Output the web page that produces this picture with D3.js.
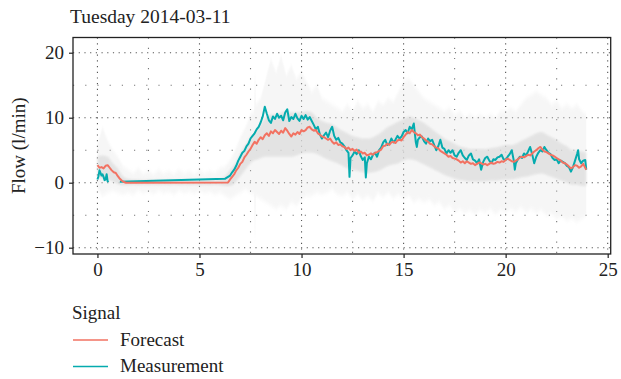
<!DOCTYPE html>
<html>
<head>
<meta charset="utf-8">
<script src="https://cdn.jsdelivr.net/npm/d3@7/dist/d3.min.js"></script>
<style>
  html, body { margin: 0; padding: 0; background: #fff; }
  svg { display: block; }
  text { font-family: "Liberation Serif", "DejaVu Serif", serif; fill: #222; }
</style>
</head>
<body>
<svg id="chart" width="621" height="379"></svg>
<script>
// Flow on Tuesday 2014-03-11, hours of the day vs l/min
const title = "Tuesday 2014-03-11";
const yTitle = "Flow (l/min)";
const legendTitle = "Signal";
const seriesNames = ["Forecast", "Measurement"];
const seriesColors = ["#F27262", "#05ABAE"];
const xTicks = [0, 5, 10, 15, 20, 25];
const yTicks = [-10, 0, 10, 20];
const xMinor = [2.5, 7.5, 12.5, 17.5, 22.5];
const yMinor = [-5, 5, 15];

// Measurement (null marks a gap in the record)
const measHours = [0, 0.05, 0.1, 0.15, 0.2, 0.25, 0.3, 0.35, 0.4, 0.45, 0.5, 0.55, 0.8,
  1.1, 6.25, 6.3, 6.4, 6.5, 6.6, 6.7, 6.8, 6.9, 7.0, 7.1, 7.2, 7.3, 7.4, 7.5, 7.6, 7.7, 7.8, 7.9,
  8.0, 8.1, 8.2, 8.3, 8.4, 8.5, 8.6, 8.7, 8.8, 8.9, 9.0, 9.1, 9.2, 9.3, 9.4, 9.5, 9.6, 9.7, 9.8, 9.9,
  10.0, 10.1, 10.2, 10.3, 10.4, 10.5, 10.6, 10.7, 10.8, 10.9, 11.0, 11.1, 11.2, 11.3, 11.4, 11.5, 11.6, 11.7, 11.8, 11.9,
  12.0, 12.1, 12.2, 12.3, 12.35, 12.4, 12.5, 12.6, 12.7, 12.8, 12.9, 13.0, 13.1, 13.15, 13.2, 13.3, 13.4, 13.5, 13.6, 13.7, 13.8, 13.9,
  14.0, 14.1, 14.2, 14.3, 14.4, 14.5, 14.6, 14.7, 14.8, 14.9, 15.0, 15.1, 15.2, 15.3, 15.4, 15.5, 15.6, 15.65, 15.7, 15.8, 15.9,
  16.0, 16.1, 16.2, 16.3, 16.4, 16.5, 16.6, 16.7, 16.8, 16.9, 17.0, 17.1, 17.2, 17.3, 17.4, 17.5, 17.6, 17.7, 17.8, 17.9,
  18.0, 18.1, 18.2, 18.3, 18.4, 18.5, 18.6, 18.7, 18.8, 18.9, 19.0, 19.1, 19.2, 19.3, 19.4, 19.5, 19.6, 19.7, 19.8, 19.9,
  20.0, 20.1, 20.2, 20.3, 20.4, 20.45, 20.5, 20.6, 20.7, 20.8, 20.9, 21.0, 21.1, 21.2, 21.3, 21.4, 21.5, 21.6, 21.7, 21.8, 21.9,
  22.0, 22.1, 22.2, 22.3, 22.4, 22.5, 22.6, 22.7, 22.8, 22.9, 23.0, 23.1, 23.2, 23.3, 23.4, 23.5, 23.55, 23.6, 23.7, 23.8, 23.9, 23.95];
const measFlow = [0.5, 1.0, 1.9, 1.5, 1.1, 1.3, 0.9, 0.4, 0.5, 1.3, 0.2, 0.3, null,
  0.15, 0.6, 0.7, 0.9, 1.1, 1.6, 2.0, 2.6, 3.4, 4.0, 4.6, 4.9, 5.6, 6.0, 6.8, 7.2, 7.6, 8.2, 8.6,
  9.3, 10.2, 11.7, 10.6, 9.6, 9.2, 10.2, 9.8, 10.6, 10.0, 10.3, 9.6, 10.8, 11.3, 9.5, 10.1, 9.8, 10.6, 9.9, 9.5,
  10.3, 9.8, 10.4, 9.7, 10.1, 9.5, 8.9, 8.2, 8.6, 7.4, 6.8, 7.3, 7.7, 7.0, 8.0, 8.6, 7.2, 6.6, 6.9, 6.2,
  6.0, 5.6, 5.0, 4.6, 0.9, 3.8, 4.2, 4.8, 4.4, 5.0, 4.1, 3.5, 3.9, 0.8, 3.0, 4.0, 3.6, 4.3, 4.6, 4.0, 5.0, 5.4,
  6.2, 6.6, 5.8, 6.0, 6.8, 6.2, 6.6, 7.2, 6.8, 7.1, 7.8, 8.1, 7.6, 8.6, 8.2, 9.1, 6.2, 5.5, 6.6, 7.0, 7.1,
  6.4, 6.0, 6.8, 6.4, 6.6, 5.8, 5.0, 5.6, 6.6, 5.4, 5.2, 4.5, 5.0, 4.6, 5.0, 4.2, 4.0, 4.6, 5.0, 4.2,
  3.8, 3.5, 4.2, 4.5, 3.6, 3.4, 3.0, 3.6, 2.0, 3.2, 3.8, 4.0, 3.4, 3.0, 3.6, 3.5, 3.9, 4.0, 4.3, 3.6,
  3.5, 4.0, 4.4, 5.0, 3.4, 2.0, 3.0, 3.6, 4.0, 3.8, 4.5, 4.2, 4.8, 5.5, 4.4, 3.0, 4.0, 4.6, 5.0, 4.8, 5.5,
  5.0, 4.6, 4.4, 3.8, 3.5, 3.6, 3.0, 3.4, 3.2, 3.0, 2.6, 2.4, 1.7, 2.4, 3.4, 4.4, 5.0, 3.6, 3.0, 3.4, 3.5, 2.0];

// Forecast
const fcHours = [0, 0.1, 0.2, 0.3, 0.4, 0.5, 0.6, 0.7, 0.8, 0.9, 1.0, 1.1, 1.2, 1.3, 1.4, 6.4,
  6.5, 6.6, 6.7, 6.8, 6.9, 7.0, 7.1, 7.2, 7.3, 7.4, 7.5, 7.6, 7.7, 7.8, 7.9,
  8.0, 8.1, 8.2, 8.3, 8.4, 8.5, 8.6, 8.7, 8.8, 8.9, 9.0, 9.1, 9.2, 9.3, 9.4, 9.5, 9.6, 9.7, 9.8, 9.9,
  10.0, 10.1, 10.2, 10.3, 10.4, 10.5, 10.6, 10.7, 10.8, 10.9, 11.0, 11.1, 11.2, 11.3, 11.4, 11.5, 11.6, 11.7, 11.8, 11.9,
  12.0, 12.1, 12.2, 12.3, 12.4, 12.5, 12.6, 12.7, 12.8, 12.9, 13.0, 13.1, 13.2, 13.3, 13.4, 13.5, 13.6, 13.7, 13.8, 13.9,
  14.0, 14.1, 14.2, 14.3, 14.4, 14.5, 14.6, 14.7, 14.8, 14.9, 15.0, 15.1, 15.2, 15.3, 15.4, 15.5, 15.6, 15.7, 15.8, 15.9,
  16.0, 16.1, 16.2, 16.3, 16.4, 16.5, 16.6, 16.7, 16.8, 16.9, 17.0, 17.1, 17.2, 17.3, 17.4, 17.5, 17.6, 17.7, 17.8, 17.9,
  18.0, 18.1, 18.2, 18.3, 18.4, 18.5, 18.6, 18.7, 18.8, 18.9, 19.0, 19.1, 19.2, 19.3, 19.4, 19.5, 19.6, 19.7, 19.8, 19.9,
  20.0, 20.1, 20.2, 20.3, 20.4, 20.5, 20.6, 20.7, 20.8, 20.9, 21.0, 21.1, 21.2, 21.3, 21.4, 21.5, 21.6, 21.7, 21.8, 21.9,
  22.0, 22.1, 22.2, 22.3, 22.4, 22.5, 22.6, 22.7, 22.8, 22.9, 23.0, 23.1, 23.2, 23.3, 23.4, 23.5, 23.6, 23.7, 23.8, 23.95];
const fcFlow = [2.7, 2.3, 2.4, 2.2, 2.6, 2.7, 2.3, 1.9, 1.6, 1.5, 1.0, 0.6, 0.3, 0.1, 0.0, 0.05,
  0.5, 0.9, 1.3, 1.9, 2.3, 2.9, 3.2, 3.9, 4.3, 4.8, 5.2, 5.8, 6.3, 6.0, 6.6,
  7.0, 6.7, 7.3, 7.6, 7.2, 7.9, 7.6, 8.1, 7.8, 7.5, 8.0, 7.7, 8.4, 8.0, 7.5, 7.1, 7.6, 7.4, 7.8, 7.5,
  8.1, 7.9, 8.1, 8.5, 8.6, 8.2, 8.0, 8.1, 7.6, 7.4, 7.1, 7.0, 6.8, 6.6, 6.8, 6.3, 6.0, 6.2, 5.8, 5.9,
  5.6, 5.5, 5.2, 5.4, 5.0, 5.2, 4.9, 5.1, 4.6, 4.8, 4.5, 4.6, 4.2, 4.3, 4.5, 4.3, 4.6, 4.7, 4.9, 5.1,
  5.6, 5.7, 6.0, 5.8, 6.2, 6.3, 6.1, 6.5, 6.6, 6.5, 7.0, 7.4, 7.8, 7.6, 8.1, 7.8, 7.6, 7.3, 7.4, 7.0,
  6.8, 6.5, 6.3, 6.0, 5.9, 5.6, 5.4, 5.3, 4.9, 4.7, 4.5, 4.3, 4.0, 4.1, 3.8, 3.7, 3.6, 3.4, 3.1, 3.3,
  3.0, 3.3, 3.1, 2.9, 3.0, 2.7, 2.9, 3.1, 3.0, 2.8, 2.9, 2.7, 2.9, 3.1, 2.9, 3.0, 3.2, 3.1, 3.3, 3.2,
  3.5, 3.7, 3.5, 3.3, 3.2, 3.4, 3.6, 3.9, 4.0, 3.9, 4.1, 4.3, 4.2, 4.5, 4.8, 5.0, 5.3, 5.5, 5.1, 4.8,
  4.7, 4.5, 4.3, 4.2, 4.0, 3.8, 3.6, 3.4, 3.1, 3.0, 2.8, 2.5, 2.2, 2.4, 2.7, 2.6, 2.3, 2.5, 2.9, 2.0];

// Forecast interval: inner (dense) and outer (extreme) bounds
const bandHours = [0, 0.25, 0.5, 0.75, 1.0, 1.25, 1.5, 1.75, 2.0, 2.25, 2.5, 2.75, 3.0, 3.25, 3.5, 3.75,
  4.0, 4.25, 4.5, 4.75, 5.0, 5.25, 5.5, 5.75, 6.0, 6.25, 6.5, 6.75, 7.0, 7.25, 7.5, 7.68, 7.72, 7.76,
  8.0, 8.25, 8.5, 8.75, 9.0, 9.25, 9.5, 9.75, 10.0, 10.25, 10.5, 10.75, 11.0, 11.25, 11.5, 11.75,
  12.0, 12.25, 12.5, 12.75, 13.0, 13.25, 13.5, 13.75, 14.0, 14.25, 14.5, 14.75, 15.0, 15.25, 15.5, 15.75,
  16.0, 16.25, 16.5, 16.75, 17.0, 17.25, 17.5, 17.75, 18.0, 18.25, 18.5, 18.75, 19.0, 19.25, 19.5, 19.75,
  20.0, 20.25, 20.5, 20.75, 21.0, 21.25, 21.5, 21.75, 22.0, 22.25, 22.5, 22.75, 23.0, 23.25, 23.5, 23.75, 23.95];
const innerLo = [0.8, 0.6, 0.5, 0.2, -0.2, -0.4, -0.4, -0.3, -0.4, -0.3, -0.4, -0.3, -0.4, -0.3, -0.4, -0.3,
  -0.4, -0.3, -0.4, -0.3, -0.4, -0.3, -0.4, -0.3, -0.4, -0.5, -0.5, 0.0, 1.0, 2.0, 3.0, 3.4, 3.5, 3.5,
  3.8, 4.0, 4.0, 4.0, 4.0, 4.0, 4.0, 4.2, 4.5, 4.6, 4.6, 4.4, 4.0, 3.6, 3.3, 3.0,
  2.6, 2.2, 2.0, 1.8, 1.6, 1.5, 1.6, 1.8, 2.2, 2.6, 2.8, 3.0, 3.4, 3.6, 3.5, 3.2,
  2.8, 2.4, 2.0, 1.6, 1.2, 0.9, 0.6, 0.4, 0.3, 0.2, 0.2, 0.2, 0.2, 0.3, 0.3, 0.4,
  0.5, 0.5, 0.6, 0.8, 0.9, 1.1, 1.3, 1.4, 1.2, 0.9, 0.6, 0.3, 0.0, -0.3, -0.3, -0.5, -0.5];
const innerHi = [4.0, 4.2, 4.0, 3.0, 2.2, 1.0, 0.6, 0.5, 0.5, 0.4, 0.5, 0.4, 0.5, 0.4, 0.5, 0.4,
  0.5, 0.4, 0.5, 0.4, 0.5, 0.4, 0.5, 0.4, 0.6, 1.0, 2.0, 3.0, 4.5, 5.8, 7.0, 7.6, 7.8, 7.9,
  9.0, 10.0, 10.5, 10.5, 10.8, 11.0, 10.8, 10.8, 10.8, 11.0, 10.8, 10.0, 9.5, 9.2, 9.0, 8.5,
  8.0, 7.6, 7.2, 7.0, 6.8, 6.8, 7.0, 7.4, 8.0, 8.6, 9.0, 9.4, 9.8, 10.2, 10.0, 9.6,
  9.2, 8.6, 8.0, 7.4, 6.8, 6.4, 6.0, 5.6, 5.4, 5.2, 5.2, 5.2, 5.2, 5.3, 5.4, 5.6,
  5.8, 5.8, 6.0, 6.4, 6.8, 7.2, 7.6, 7.8, 7.4, 7.0, 6.6, 6.0, 5.6, 5.0, 5.0, 4.8, 4.6];
const outerLo = [-1.0, -2.0, -1.5, -1.2, -1.5, -1.8, -1.5, -1.8, -1.2, -1.6, -1.3, -1.7, -1.2, -1.6, -1.4, -1.8,
  -1.2, -1.6, -1.3, -1.7, -1.2, -1.6, -1.4, -1.8, -1.5, -2.0, -2.5, -2.0, -1.5, -1.0, -1.5, -1.8, -9.6, -2.0,
  -2.5, -3.0, -3.5, -4.0, -3.5, -4.0, -3.0, -3.5, -2.5, -2.0, -2.0, -1.5, -1.8, -1.5, -1.0, -1.8,
  -2.0, -1.5, -2.5, -1.8, -2.6, -2.0, -2.8, -1.6, -2.2, -1.5, -2.4, -1.8, -2.5, -2.0, -3.0, -2.5,
  -3.0, -2.6, -3.4, -3.0, -4.0, -3.5, -4.5, -4.0, -4.6, -4.2, -4.8, -4.2, -4.6, -4.0, -4.8, -4.2,
  -4.5, -4.0, -4.4, -3.8, -4.5, -4.0, -4.6, -4.2, -5.0, -4.8, -5.5, -5.2, -5.8, -5.5, -6.0, -5.5, -5.0];
const outerHi = [6.0, 8.5, 6.5, 5.0, 4.0, 2.5, 2.0, 1.5, 2.2, 1.4, 1.8, 1.3, 2.0, 1.4, 1.8, 1.3,
  2.0, 1.4, 1.8, 1.3, 2.0, 1.4, 1.8, 1.5, 2.2, 2.5, 3.5, 5.0, 7.0, 8.5, 10.5, 11.0, 17.5, 12.0,
  13.0, 16.0, 19.0, 17.0, 19.5, 16.5, 18.0, 16.0, 17.0, 15.5, 14.0, 15.0, 13.0, 12.5, 12.0, 11.5,
  11.0, 12.0, 11.0, 12.5, 11.5, 12.0, 11.0, 12.5, 12.0, 13.0, 12.5, 14.0, 15.5, 16.0, 15.0, 14.0,
  13.0, 12.5, 12.0, 11.5, 11.0, 11.5, 10.5, 11.0, 10.0, 10.5, 10.0, 10.5, 10.0, 10.5, 10.0, 11.0,
  11.0, 11.5, 11.0, 12.0, 13.0, 13.5, 14.0, 13.5, 13.0, 12.0, 12.5, 11.5, 12.0, 11.5, 12.0, 11.0, 10.5];

const svg = d3.select("#chart");
const panel = { left: 73, right: 610.7, top: 37.5, bottom: 254 };

const xExtent = d3.extent(bandHours);
const xPad = 0.05 * (xExtent[1] - xExtent[0]);
const x = d3.scaleLinear()
  .domain([xExtent[0] - xPad, xExtent[1] + xPad])
  .range([panel.left, panel.right]);
const y = d3.scaleLinear()
  .domain([-10.97, 22.34])
  .range([panel.bottom, panel.top]);

// Dotted grid: dense dots on major breaks, sparse on minor
const grid = svg.append("g");
grid.selectAll("line.vmin").data(xMinor).join("line")
  .attr("x1", d => x(d)).attr("x2", d => x(d))
  .attr("y1", panel.top).attr("y2", panel.bottom)
  .attr("stroke", "#777").attr("stroke-width", 1.1).attr("stroke-dasharray", "1.2,9");
grid.selectAll("line.hmin").data(yMinor).join("line")
  .attr("x1", panel.left).attr("x2", panel.right)
  .attr("y1", d => y(d)).attr("y2", d => y(d))
  .attr("stroke", "#777").attr("stroke-width", 1.1).attr("stroke-dasharray", "1.2,11");
grid.selectAll("line.vmaj").data(xTicks).join("line")
  .attr("x1", d => x(d)).attr("x2", d => x(d))
  .attr("y1", panel.top).attr("y2", panel.bottom)
  .attr("stroke", "#555").attr("stroke-width", 1.1).attr("stroke-dasharray", "1.2,4.5");
grid.selectAll("line.hmaj").data(yTicks).join("line")
  .attr("x1", panel.left).attr("x2", panel.right)
  .attr("y1", d => y(d)).attr("y2", d => y(d))
  .attr("stroke", "#555").attr("stroke-width", 1.1).attr("stroke-dasharray", "1.2,4.5");

// Interval ribbons
const band = bandHours.map((h, i) => ({ h, lo: innerLo[i], hi: innerHi[i], olo: outerLo[i], ohi: outerHi[i] }));
const defs = svg.append("defs");
defs.append("filter").attr("id", "soft")
  .append("feGaussianBlur").attr("stdDeviation", "0.6 2");
defs.append("filter").attr("id", "softer")
  .append("feGaussianBlur").attr("stdDeviation", "0.8 1.2");
svg.append("path").datum(band)
  .attr("d", d3.area().x(d => x(d.h)).y0(d => y(d.olo)).y1(d => y(d.ohi)))
  .attr("fill", "#e2e2e2").attr("opacity", 0.3).attr("filter", "url(#soft)");
svg.append("path").datum(band)
  .attr("d", d3.area().x(d => x(d.h)).y0(d => y(d.lo)).y1(d => y(d.hi)).curve(d3.curveMonotoneX))
  .attr("fill", "#dcdcdc").attr("opacity", 0.7).attr("filter", "url(#softer)");

// Series lines
const meas = measHours.map((h, i) => ({ h, v: measFlow[i] }));
const fc = fcHours.map((h, i) => ({ h, v: fcFlow[i] }));
const line = d3.line().defined(d => d.v !== null).x(d => x(d.h)).y(d => y(d.v));
svg.append("path").datum(meas).attr("d", line)
  .attr("fill", "none").attr("stroke", seriesColors[1]).attr("stroke-width", 2).attr("stroke-linejoin", "round");
svg.append("path").datum(fc).attr("d", line)
  .attr("fill", "none").attr("stroke", seriesColors[0]).attr("stroke-width", 2).attr("stroke-linejoin", "round");

// Panel border
svg.append("rect")
  .attr("x", panel.left).attr("y", panel.top)
  .attr("width", panel.right - panel.left).attr("height", panel.bottom - panel.top)
  .attr("fill", "none").attr("stroke", "#222").attr("stroke-width", 1.3);

// Axes
const xAxis = svg.append("g").attr("transform", `translate(0,${panel.bottom})`)
  .call(d3.axisBottom(x).tickValues(xTicks).tickSize(4).tickPadding(4));
const yAxis = svg.append("g").attr("transform", `translate(${panel.left},0)`)
  .call(d3.axisLeft(y).tickValues(yTicks).tickSize(4).tickPadding(5).tickFormat(d => d < 0 ? "\u2212" + Math.abs(d) : d));
[xAxis, yAxis].forEach(g => {
  g.select(".domain").remove();
  g.selectAll(".tick line").attr("stroke", "#222").attr("stroke-width", 1.2);
  g.selectAll(".tick text").attr("fill", "#222").style("font-size", "19px")
    .style("font-family", "'Liberation Serif', serif");
});
xAxis.selectAll(".tick text").attr("dy", "0.75em");

// Titles
svg.append("text").attr("x", 70).attr("y", 23).style("font-size", "19.5px").text(title);
svg.append("text")
  .attr("transform", `translate(25,${(panel.top + panel.bottom) / 2}) rotate(-90)`)
  .attr("text-anchor", "middle").style("font-size", "19px").text(yTitle);

// Legend
const legend = svg.append("g");
legend.append("text").attr("x", 72).attr("y", 319).style("font-size", "19px").text(legendTitle);
const keys = legend.selectAll("g.key").data(seriesNames).join("g")
  .attr("transform", (d, i) => `translate(73,${340 + i * 26.5})`);
keys.append("line").attr("x1", 0).attr("x2", 35).attr("y1", 0).attr("y2", 0)
  .attr("stroke", (d, i) => seriesColors[i]).attr("stroke-width", 1.6);
keys.append("text").attr("x", 47).attr("y", 5.5).style("font-size", "19px").text(d => d);
</script>
</body>
</html>
